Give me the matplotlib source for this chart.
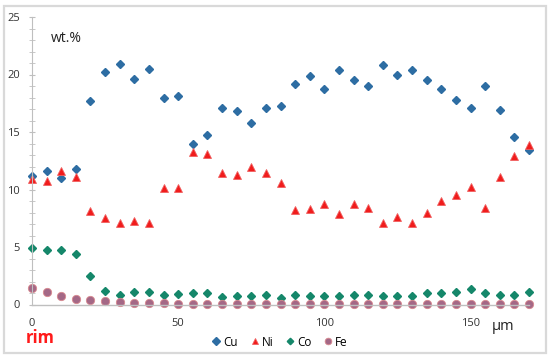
import matplotlib
matplotlib.use("Agg")
import matplotlib.pyplot as plt
from matplotlib.patches import Rectangle

# profile positions (µm), one analysis every 5 µm from the rim
dist = list(range(0, 175, 5))

cu = [11.2, 11.6, 11.0, 11.8, 17.7, 20.2, 20.9, 19.6, 20.5, 18.0, 18.1, 14.0,
      14.7, 17.1, 16.8, 15.8, 17.1, 17.3, 19.2, 19.9, 18.7, 20.4, 19.5, 19.0,
      20.8, 20.0, 20.4, 19.5, 18.7, 17.8, 17.1, 19.0, 16.9, 14.6, 13.4]
ni = [10.9, 10.7, 11.6, 11.1, 8.1, 7.5, 7.1, 7.3, 7.1, 10.1, 10.1, 13.3,
      13.1, 11.4, 11.3, 12.0, 11.4, 10.6, 8.2, 8.3, 8.7, 7.9, 8.7, 8.4,
      7.1, 7.6, 7.1, 8.0, 9.0, 9.5, 10.2, 8.4, 11.1, 12.9, 13.9]
co = [4.95, 4.7, 4.7, 4.4, 2.5, 1.2, 0.85, 1.1, 1.1, 0.85, 0.9, 1.0,
      1.0, 0.65, 0.78, 0.75, 0.85, 0.6, 0.8, 0.78, 0.7, 0.7, 0.85, 0.8,
      0.75, 0.78, 0.75, 0.97, 1.0, 1.05, 1.35, 1.0, 0.85, 0.85, 1.1]
fe = [1.4, 1.05, 0.78, 0.48, 0.4, 0.3, 0.25, 0.17, 0.17, 0.1, 0.06, 0.03,
      0.05, 0.06, 0.05, 0.05, 0.03, 0.05, 0.05, 0.08, 0.08, 0.03, 0.05, 0.03,
      0.02, 0.02, 0.02, 0.02, 0.02, 0.02, 0.02, 0.02, 0.02, 0.02, 0.02]

plt.rcParams['font.family'] = ['Open Sans', 'DejaVu Sans']

fig = plt.figure(figsize=(5.5, 3.62), dpi=100)
ax = fig.add_axes([32/550, 57.5/362, 497/550, 287.5/362])

# outer frame of the picture
fig.patches.append(Rectangle((4/550, 9/362), 542/550, 347/362, transform=fig.transFigure,
                             fill=False, edgecolor='#d9d9d9', lw=1.6))

ax.plot(dist, cu, 'D', ms=4.5, color='#2d6da3', mec='#2d6da3', label='Cu', clip_on=False)
ax.plot(dist, ni, '^', ms=5.8, color='#f01c1c', mec='#f06060', mew=0.6, label='Ni', clip_on=False)
ax.plot(dist, co, 'D', ms=4.1, color='#15876a', mec='#15876a', label='Co', clip_on=False)
ax.plot(dist, fe, 'o', ms=6.0, color='#a46886', mec='#d9898f', mew=0.6, label='Fe', clip_on=False)

ax.set_xlim(0, 170)
ax.set_ylim(0, 25)
ax.set_xticks([0, 50, 100, 150])
ax.set_yticks([0, 5, 10, 15, 20, 25])
ax.set_yticks(range(0, 26), minor=True)

for s in ['top', 'right']:
    ax.spines[s].set_visible(False)
ax.spines['left'].set_color('#bfbfbf')
ax.spines['bottom'].set_color('#bfbfbf')
ax.spines['left'].set_linewidth(0.8)
ax.spines['bottom'].set_linewidth(1.0)

ax.tick_params(axis='y', which='both', direction='inout', color='#bfbfbf', labelsize=8,
               labelcolor='#333333', pad=6)
ax.tick_params(axis='y', which='major', length=5)
ax.tick_params(axis='y', which='minor', length=4)
ax.tick_params(axis='x', length=0, labelsize=8, labelcolor='#333333', pad=10)

fig.text(66/550, 1 - 38/362, 'wt.%', fontsize=10, ha='center', va='center', color='#222222')
fig.text(503/550, 1 - 327/362, 'µm', fontsize=10.5, ha='center', va='center', color='#222222')
fig.text(40/550, 1 - 338/362, 'rim', fontsize=12, fontweight='bold', ha='center', va='center',
         color='#ff1a1a')

fig.legend(loc='center', bbox_to_anchor=(279/550, 1 - 342/362), ncol=4, frameon=False,
           fontsize=8.5, handletextpad=0.1, columnspacing=0.9, handlelength=1.0, markerscale=0.8)

fig.savefig('out.png', dpi=100)
